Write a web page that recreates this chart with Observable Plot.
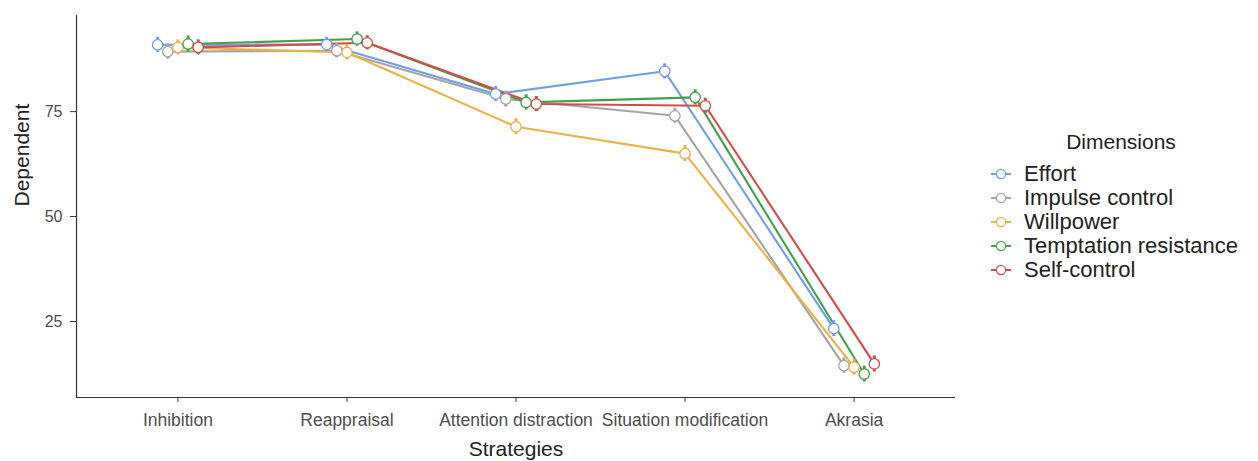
<!DOCTYPE html>
<html><head><meta charset="utf-8">
<script src="https://cdn.jsdelivr.net/npm/d3@7"></script>
<script src="https://cdn.jsdelivr.net/npm/@observablehq/plot@0.6"></script>
<style>
body{margin:0;background:#fff;font-family:"Liberation Sans",Arial,Helvetica,sans-serif;}
#wrap{position:relative;width:1258px;height:461px;overflow:hidden;}
#legend{position:absolute;left:990px;top:130px;width:262px;color:#222;font-size:22px;line-height:24px;}
#legend .title{text-align:center;margin-bottom:8px;font-size:21px;}
#legend .item{display:flex;align-items:center;height:24px;white-space:nowrap;}
#legend .item svg{margin-right:12px;flex:none;}
</style></head><body><div id="wrap"></div>
<script>
const strategies = ["Inhibition","Reappraisal","Attention distraction","Situation modification","Akrasia"];
const dimensions = ["Effort","Impulse control","Willpower","Temptation resistance","Self-control"];
const colors = ["#6f9fe8","#a5a5a5","#ebb247","#45a049","#d44b4b"];
const effort      = [90.9, 91.0, 79.2, 84.6, 23.3];
const impulse     = [89.3, 89.5, 78.0, 74.0, 14.5];
const willpower   = [90.3, 89.1, 71.4, 65.0, 14.1];
const temptation  = [91.1, 92.3, 77.2, 78.4, 12.5];
const selfControl = [90.3, 91.4, 76.8, 76.4, 14.9];
const effortSE      = [1.8, 1.7, 1.8, 1.8, 1.9];
const impulseSE     = [1.8, 1.7, 1.9, 1.8, 1.8];
const willpowerSE   = [1.8, 1.8, 1.9, 1.9, 1.9];
const temptationSE  = [1.9, 1.7, 1.8, 1.8, 1.9];
const selfControlSE = [1.8, 1.7, 1.8, 1.8, 1.9];
const yTicks = [25, 50, 75];

const series = [effort, impulse, willpower, temptation, selfControl];
const seriesSE = [effortSE, impulseSE, willpowerSE, temptationSE, selfControlSE];
const dodge = 0.06;
const rows = [];
dimensions.forEach((dim, j) => {
  strategies.forEach((s, i) => {
    const v = series[j][i], se = seriesSE[j][i];
    rows.push({dim, strategy: s, x: i + (j - 2) * dodge, value: v, lo: v - se, hi: v + se});
  });
});

const yMin = 6.9, yMax = 97.9;
const xMin = -0.6, xMax = strategies.length - 1 + 0.6;

const plot = Plot.plot({
  width: 1258, height: 461,
  marginLeft: 76, marginRight: 303, marginTop: 15, marginBottom: 64,
  style: {fontFamily: '"Liberation Sans", Arial, sans-serif', fontSize: "16px", color: "#4d4d4d", background: "#fff"},
  x: {domain: [xMin, xMax], axis: null},
  y: {domain: [yMin, yMax], axis: null},
  color: {domain: dimensions, range: colors},
  marks: [
    Plot.ruleX([xMin], {stroke: "#333", strokeWidth: 1.2}),
    Plot.ruleY([yMin], {stroke: "#333", strokeWidth: 1.2}),
    Plot.axisY(yTicks, {anchor: "left", tickSize: 6, tickPadding: 8, stroke: "#333", fill: "#4d4d4d", label: null, fontSize: 16}),
    Plot.axisX(d3.range(strategies.length), {anchor: "bottom", tickSize: 5, tickPadding: 11, stroke: "#333", fill: "#4d4d4d", label: null, fontSize: 17.5, tickFormat: i => strategies[i]}),
    Plot.text(["Strategies"], {frameAnchor: "bottom", dy: 52, lineAnchor: "middle", fontSize: 21, fill: "#222"}),
    Plot.text(["Dependent"], {frameAnchor: "left", dx: -54, rotate: -90, lineAnchor: "middle", fontSize: 21, fill: "#222"}),
    Plot.line(rows, {x: "x", y: "value", z: "dim", stroke: "dim", strokeWidth: 2.1}),
    Plot.ruleX(rows, {x: "x", y1: "lo", y2: "hi", stroke: "dim", strokeWidth: 3}),
    Plot.dot(rows, {x: "x", y: "value", r: 5.2, fill: "white", stroke: "dim", strokeWidth: 1.3})
  ]
});
const wrap = document.getElementById("wrap");
wrap.appendChild(plot);

const legend = document.createElement("div");
legend.id = "legend";
const title = document.createElement("div");
title.className = "title";
title.textContent = "Dimensions";
legend.appendChild(title);
dimensions.forEach((d, j) => {
  const item = document.createElement("div");
  item.className = "item";
  item.innerHTML = `<svg width="22" height="24"><line x1="1" x2="21" y1="12" y2="12" stroke="${colors[j]}" stroke-width="2"/><circle cx="11" cy="12" r="4.6" fill="white" stroke="${colors[j]}" stroke-width="1.2"/></svg><span>${d}</span>`;
  legend.appendChild(item);
});
wrap.appendChild(legend);
</script>
</body></html>
